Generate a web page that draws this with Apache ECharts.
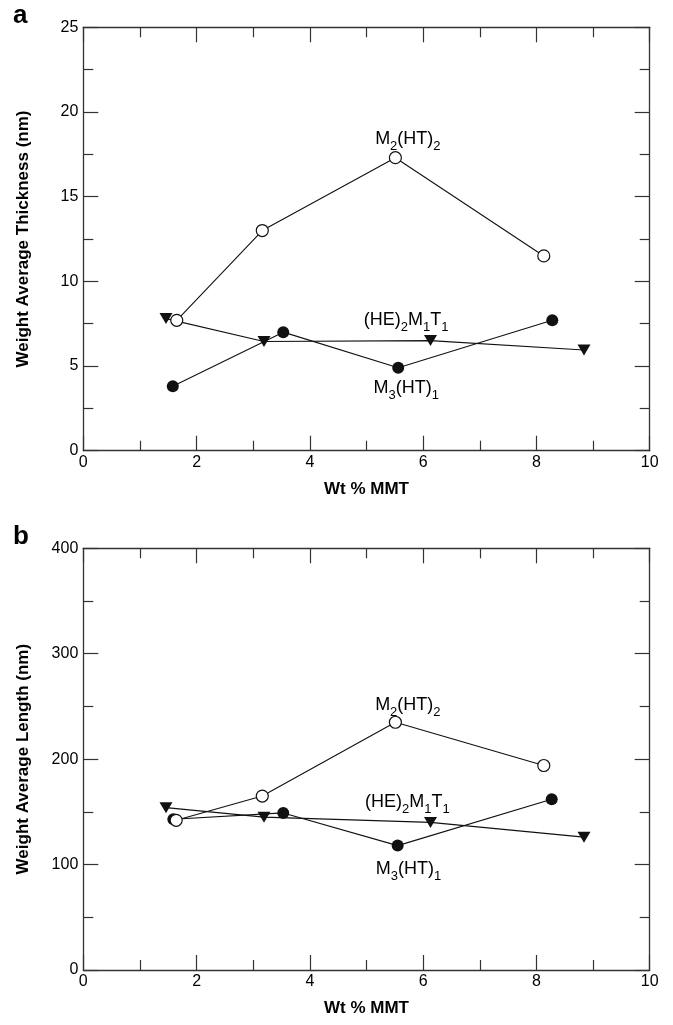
<!DOCTYPE html>
<html>
<head>
<meta charset="utf-8">
<script src="https://cdn.jsdelivr.net/npm/echarts@6/dist/echarts.min.js"></script>
<style>
html,body{margin:0;padding:0;background:#fff;}
#chart{width:673px;height:1025px;}
</style>
</head>
<body>
<div id="chart"></div>
<script>
// ---- data (x = Wt % MMT) ----
const xTicks = [0, 2, 4, 6, 8, 10];
const thicknessTicks = [0, 5, 10, 15, 20, 25];
const lengthTicks = [0, 100, 200, 300, 400];

// Panel a: weight average thickness (nm)
const thickM2HT2 = [[1.65, 7.7], [3.16, 13.0], [5.51, 17.3], [8.13, 11.5]];
const thickHE2M1T1 = [[1.46, 7.8], [3.19, 6.45], [6.13, 6.5], [8.84, 5.95]];
const thickM3HT1 = [[1.58, 3.8], [3.53, 7.0], [5.56, 4.9], [8.28, 7.7]];

// Panel b: weight average length (nm)
const lenM2HT2 = [[1.64, 142], [3.16, 165], [5.51, 235], [8.13, 194]];
const lenHE2M1T1 = [[1.46, 154], [3.19, 145], [6.13, 140], [8.84, 126]];
const lenM3HT1 = [[1.59, 143], [3.53, 149], [5.55, 118], [8.27, 162]];

// series label annotations (data coordinates)
const labelsA = [[5.73, 18.5, 'M2'], [5.70, 7.85, 'HE'], [5.70, 3.8, 'M3']];
const labelsB = [[5.73, 253, 'M2'], [5.72, 161, 'HE'], [5.74, 98, 'M3']];

const FONT = '"Liberation Sans", Arial, sans-serif';
const INK = '#000';
const FRAME = '#333';

const richText = {
  M2: '{n|M}{s|2}{n|(HT)}{s|2}',
  HE: '{n|(HE)}{s|2}{n|M}{s|1}{n|T}{s|1}',
  M3: '{n|M}{s|3}{n|(HT)}{s|1}'
};
const rich = {
  n: {fontSize: 18, fontFamily: FONT, color: INK, textBorderWidth: 0, lineHeight: 22, verticalAlign: 'bottom'},
  s: {fontSize: 13, fontFamily: FONT, color: INK, textBorderWidth: 0, lineHeight: 22, verticalAlign: 'bottom', padding: [0, 0, -5, 0]}
};

function commonAxis(gridIndex, min, max, interval) {
  return {
    type: 'value', gridIndex, min, max, interval,
    axisLine: {show: true, onZero: false, lineStyle: {color: FRAME, width: 1.3}},
    axisTick: {show: true, inside: true, length: 15, lineStyle: {color: FRAME, width: 1.2}},
    minorTick: {show: true, splitNumber: 2, length: 10, lineStyle: {color: FRAME, width: 1.2}},
    splitLine: {show: false}, minorSplitLine: {show: false}
  };
}

function xAxes(gridIndex) {
  return [
    Object.assign(commonAxis(gridIndex, 0, 10, 2), {
      position: 'bottom',
      name: 'Wt % MMT', nameLocation: 'middle', nameGap: 30,
      nameTextStyle: {fontFamily: FONT, fontWeight: 'bold', fontSize: 17, color: INK},
      axisLabel: {show: true, margin: 4, fontFamily: FONT, fontSize: 16, color: INK}
    }),
    Object.assign(commonAxis(gridIndex, 0, 10, 2), {position: 'top', axisLabel: {show: false}})
  ];
}

function yAxes(gridIndex, max, interval, name) {
  return [
    Object.assign(commonAxis(gridIndex, 0, max, interval), {
      position: 'left',
      name, nameLocation: 'middle', nameGap: 51,
      nameTextStyle: {fontFamily: FONT, fontWeight: 'bold', fontSize: 17, color: INK},
      axisLabel: {show: true, margin: 5, fontFamily: FONT, fontSize: 16, color: INK}
    }),
    Object.assign(commonAxis(gridIndex, 0, max, interval), {position: 'right', axisLabel: {show: false}})
  ];
}

function panelSeries(xi, yi, he, m3, m2, labels) {
  const line = {type: 'line', xAxisIndex: xi, yAxisIndex: yi, lineStyle: {color: '#111', width: 1.1}, animation: false};
  return [
    Object.assign({}, line, {
      name: '(HE)2M1T1', data: he, symbol: 'triangle', symbolRotate: 180, symbolSize: [13, 11],
      itemStyle: {color: '#111'}, z: 2
    }),
    Object.assign({}, line, {
      name: 'M3(HT)1', data: m3, symbol: 'circle', symbolSize: 12,
      itemStyle: {color: '#111'}, z: 3
    }),
    Object.assign({}, line, {
      name: 'M2(HT)2', data: m2, symbol: 'circle', symbolSize: 12,
      itemStyle: {color: '#fff', borderColor: '#111', borderWidth: 1.2}, z: 4
    }),
    {
      type: 'scatter', xAxisIndex: xi, yAxisIndex: yi, symbolSize: 0, animation: false, z: 5,
      itemStyle: {color: '#000', opacity: 1},
      silent: true,
      data: labels.map(d => ({value: [d[0], d[1]], key: d[2]})),
      label: {
        show: true, position: 'inside', align: 'center', verticalAlign: 'middle',
        color: INK, textBorderWidth: 0, textBorderColor: 'transparent', opacity: 1,
        formatter: p => richText[p.data.key], rich
      }
    }
  ];
}

const chart = echarts.init(document.getElementById('chart'), null, {renderer: 'canvas'});
chart.setOption({
  backgroundColor: '#fff',
  animation: false,
  grid: [
    {left: 83.3, top: 27.3, width: 566.4, height: 423.4},
    {left: 83.3, top: 548.3, width: 566.4, height: 421.7}
  ],
  xAxis: [...xAxes(0), ...xAxes(1)],
  yAxis: [
    ...yAxes(0, 25, 5, 'Weight Average Thickness (nm)'),
    ...yAxes(1, 400, 100, 'Weight Average Length (nm)')
  ],
  graphic: [
    {type: 'text', left: 13, top: 3, style: {text: 'a', font: 'bold 26px ' + FONT, fill: '#000'}},
    {type: 'text', left: 13, top: 524, style: {text: 'b', font: 'bold 26px ' + FONT, fill: '#000'}}
  ],
  series: [
    ...panelSeries(0, 0, thickHE2M1T1, thickM3HT1, thickM2HT2, labelsA),
    ...panelSeries(2, 2, lenHE2M1T1, lenM3HT1, lenM2HT2, labelsB)
  ]
});
</script>
</body>
</html>
